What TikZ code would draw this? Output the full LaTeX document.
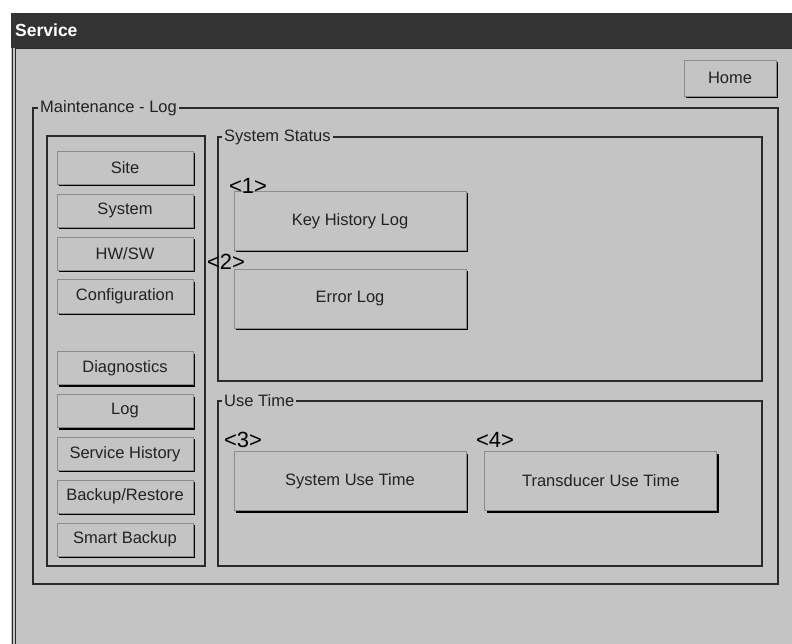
\documentclass[tikz,border=0pt]{standalone}
\usepackage{fontspec}
\setmainfont{Liberation Sans}
\usetikzlibrary{positioning}

\definecolor{panelgray}{HTML}{C4C4C4}
\definecolor{titlebar}{HTML}{333333}
\definecolor{framedark}{HTML}{2A2A2A}
\definecolor{btnlight}{HTML}{8C8C8C}
\definecolor{btntext}{HTML}{222222}

\tikzset{
uifont/.style={font=\fontsize{16.5}{18}\selectfont},
button/.style={
draw=btnlight,
line width=0.8pt,
fill=panelgray,
text=btntext,
uifont,
preaction={fill=black, transform canvas={shift={(2pt,-2pt)}}}
},
navbtn/.style={button, minimum width=136pt, minimum height=33pt, inner sep=0pt},
bigbtn/.style={button, minimum width=232pt, minimum height=59pt},
groupbox/.style={draw=framedark, line width=1.2pt},
grouplabel/.style={fill=panelgray, inner sep=2pt, anchor=west, uifont, text=btntext},
marker/.style={font=\fontsize{22}{24}\selectfont, inner sep=0pt}
}

\begin{document}
\begin{tikzpicture}[
x=1pt, y=-1pt,
node distance=9pt
]

\fill[white] (0,0) rectangle (792,644);
\useasboundingbox (0,0) rectangle (792,644);

% window
\fill[panelgray] (11,47) rectangle (792,644);
\fill[titlebar] (11,13) rectangle (792,48);
\node[anchor=west, inner sep=0pt, text=white, font=\bfseries\fontsize{17.5}{19}\selectfont] (title) at (15,30) {Service};
\draw[framedark, line width=1pt] (12,48) -- (12,644);
\draw[framedark, line width=1pt] (15,644) -- (15,48.5) -- (792,48.5);

\node[button, minimum width=92pt, minimum height=36pt] (home) at (730,78) {Home};

% group frames
\draw[groupbox] (33,108) rectangle (778,584);
\node[grouplabel] (maint) at (38,108) {Maintenance - Log};
\draw[groupbox] (47,136) rectangle (205,566);
\draw[groupbox] (218,137) rectangle (762,381);
\node[grouplabel] (status) at (222,137) {System Status};
\draw[groupbox] (218,401) rectangle (762,566);
\node[grouplabel] (usetime) at (222,401) {Use Time};

% menu
\node[navbtn] (site) at (125,168) {Site};
\node[navbtn, below=of site] (system) {System};
\node[navbtn, below=of system] (hwsw) {HW/SW};
\node[navbtn, below=of hwsw] (config) {Configuration};
\node[navbtn, below=38pt of config] (diag) {Diagnostics};
\node[navbtn, below=of diag] (log) {Log};
\node[navbtn, below=of log] (history) {Service History};
\node[navbtn, below=of history] (backup) {Backup/Restore};
\node[navbtn, below=of backup] (smart) {Smart Backup};

% log buttons
\node[bigbtn] (keylog) at (350,221) {Key History Log};
\node[bigbtn, below=18pt of keylog] (errlog) {Error Log};
\node[bigbtn] (sysuse) at (350,481) {System Use Time};
\node[bigbtn, right=18pt of sysuse] (xducer) {Transducer Use Time};

\node[marker] (m1) at (248,186) {<1>};
\node[marker] (m2) at (226,262) {<2>};
\node[marker] (m3) at (243,440) {<3>};
\node[marker] (m4) at (495,440) {<4>};

\end{tikzpicture}
\end{document}
